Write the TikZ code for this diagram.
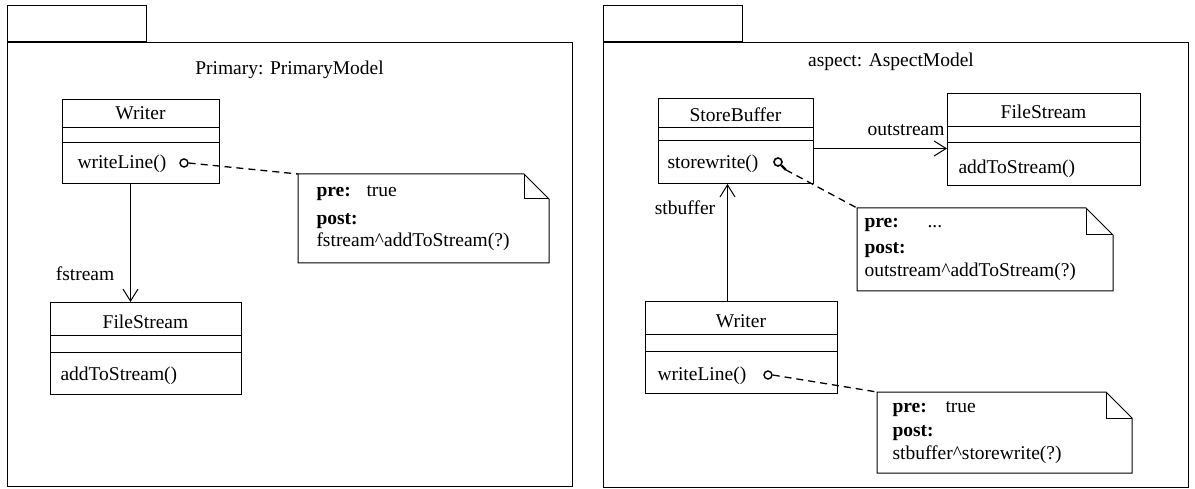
\documentclass[tikz,border=0pt]{standalone}
\usepackage{fontspec}
\setmainfont{Liberation Serif}
\usetikzlibrary{arrows.meta}
\begin{document}
\begin{tikzpicture}[x=1pt,y=-1pt,line width=1pt,
  font=\fontsize{19.5}{23}\selectfont,
  frame/.style={draw,rectangle,inner sep=0pt,line width=1.1pt},
  classbox/.style={draw,rectangle,anchor=north west,inner sep=0pt},
  notebox/.style={rectangle,anchor=north west,inner sep=0pt},
  ctxt/.style={anchor=base,inner sep=0pt},
  ltxt/.style={anchor=base west,inner sep=0pt},
  rtxt/.style={anchor=base east,inner sep=0pt},
  port/.style={circle,draw,inner sep=0pt,minimum size=8pt,line width=1.4pt},
  link/.style={dash pattern=on 7pt off 5pt,line width=1.3pt},
  assoc/.style={-{Straight Barb[length=12pt,width=15pt]}}]
\useasboundingbox (0,0) rectangle (1195,489);

% ---------- left package ----------
\node[frame,anchor=north west,minimum width=565pt,minimum height=444pt] (pkA) at (7,42) {};
\node[frame,anchor=south west,minimum width=139pt,minimum height=36pt] (tabA) at (pkA.north west) {};
\node[ctxt] (titleA) at (289.5,75) {Primary: PrimaryModel};

% Writer
\node[classbox,minimum width=157pt,minimum height=84pt] (wA) at (62,99) {};
\draw ([yshift=-29pt]wA.north west) -- ([yshift=-29pt]wA.north east);
\draw ([yshift=-44pt]wA.north west) -- ([yshift=-44pt]wA.north east);
\node[ctxt] (wAname) at (140.5,120) {Writer};
\node[ltxt] (wAop) at (77,169) {writeLine()};
\node[port] (pA) at (184,163) {};

% FileStream
\node[classbox,minimum width=191pt,minimum height=92pt] (fA) at (50,302) {};
\draw ([yshift=-33pt]fA.north west) -- ([yshift=-33pt]fA.north east);
\draw ([yshift=-50pt]fA.north west) -- ([yshift=-50pt]fA.north east);
\node[ctxt] (fAname) at (145.5,329) {FileStream};
\node[ltxt] (fAop) at (60,381) {addToStream()};

\draw[assoc] ([xshift=-10.5pt]wA.south) -- ([xshift=-10.5pt]wA.south |- fA.north);
\node[ctxt] (lblA) at (85,280) {fstream};

% constraint note
\node[notebox,minimum width=250pt,minimum height=88pt] (nA) at (298,174) {};
\draw (nA.north west) -- ([xshift=-25pt]nA.north east) -- ([yshift=-25pt]nA.north east)
  -- (nA.south east) -- (nA.south west) -- cycle;
\draw ([xshift=-25pt]nA.north east) |- ([yshift=-25pt]nA.north east);
\node[ltxt] (nApre) at (316,197) {\textbf{pre:}};
\node[ltxt] (nAtrue) at (366,197) {true};
\node[ltxt] (nApost) at (316,225) {\textbf{post:}};
\node[ltxt] (nAexpr) at (316,247) {fstream\textasciicircum addToStream(?)};
\draw[link] (pA.east) -- (nA.north west);

% ---------- right package ----------
\node[frame,anchor=north west,minimum width=585pt,minimum height=445pt] (pkB) at (603,42) {};
\node[frame,anchor=south west,minimum width=139pt,minimum height=36pt] (tabB) at (pkB.north west) {};
\node[ctxt] (titleB) at (891,67) {aspect: AspectModel};

% StoreBuffer
\node[classbox,minimum width=155pt,minimum height=85pt] (sB) at (658,98) {};
\draw ([yshift=-30pt]sB.north west) -- ([yshift=-30pt]sB.north east);
\draw ([yshift=-43pt]sB.north west) -- ([yshift=-43pt]sB.north east);
\node[ctxt] (sBname) at (735.5,122) {StoreBuffer};
\node[ltxt] (sBop) at (667,169) {storewrite()};
\node[circle,draw,inner sep=0pt,minimum size=8pt,line width=1.6pt] (mg) at (778,162) {};
\coordinate (mgend) at ([shift={(4.5pt,-4.5pt)}]mg.south east);
\draw[line width=2.2pt] (mg.south east) -- (mgend);

% FileStream
\node[classbox,minimum width=193pt,minimum height=92pt] (fB) at (947,93) {};
\draw ([yshift=-34pt]fB.north west) -- ([yshift=-34pt]fB.north east);
\draw ([yshift=-50pt]fB.north west) -- ([yshift=-50pt]fB.north east);
\node[ctxt] (fBname) at (1043.5,119) {FileStream};
\node[ltxt] (fBop) at (958,174) {addToStream()};

\draw[assoc] ([yshift=-7.5pt]sB.east) -- ([yshift=-7.5pt]sB.east -| fB.west);
\node[rtxt] (lblB) at (945,136) {outstream};

% Writer
\node[classbox,minimum width=192pt,minimum height=92pt] (wB) at (645,301) {};
\draw ([yshift=-33pt]wB.north west) -- ([yshift=-33pt]wB.north east);
\draw ([yshift=-50pt]wB.north west) -- ([yshift=-50pt]wB.north east);
\node[ctxt] (wBname) at (741,327) {Writer};
\node[ltxt] (wBop) at (657,381) {writeLine()};
\node[port] (pB) at (768,375) {};

\draw[assoc] ([xshift=-14pt]wB.north) -- ([xshift=-14pt]wB.north |- sB.south);
\node[ctxt] (lblC) at (685,215) {stbuffer};

% note on storewrite()
\node[notebox,minimum width=255pt,minimum height=82pt] (nB) at (857,208) {};
\draw (nB.north west) -- ([xshift=-27pt]nB.north east) -- ([yshift=-27pt]nB.north east)
  -- (nB.south east) -- (nB.south west) -- cycle;
\draw ([xshift=-27pt]nB.north east) |- ([yshift=-27pt]nB.north east);
\node[ltxt] (nBpre) at (864,228) {\textbf{pre:}};
\node[ltxt] (nBdots) at (927,228) {...};
\node[ltxt] (nBpost) at (864,254) {\textbf{post:}};
\node[ltxt] (nBexpr) at (864,277) {outstream\textasciicircum addToStream(?)};
\draw[link] (mgend) -- (nB.north west);

% note on writeLine()
\node[notebox,minimum width=254pt,minimum height=80pt] (nC) at (877,392) {};
\draw (nC.north west) -- ([xshift=-26pt]nC.north east) -- ([yshift=-26pt]nC.north east)
  -- (nC.south east) -- (nC.south west) -- cycle;
\draw ([xshift=-26pt]nC.north east) |- ([yshift=-26pt]nC.north east);
\node[ltxt] (nCpre) at (892,412) {\textbf{pre:}};
\node[ltxt] (nCtrue) at (945,412) {true};
\node[ltxt] (nCpost) at (892,436) {\textbf{post:}};
\node[ltxt] (nCexpr) at (892,459) {stbuffer\textasciicircum storewrite(?)};
\draw[link] (pB.east) -- (nC.north west);
\end{tikzpicture}
\end{document}
